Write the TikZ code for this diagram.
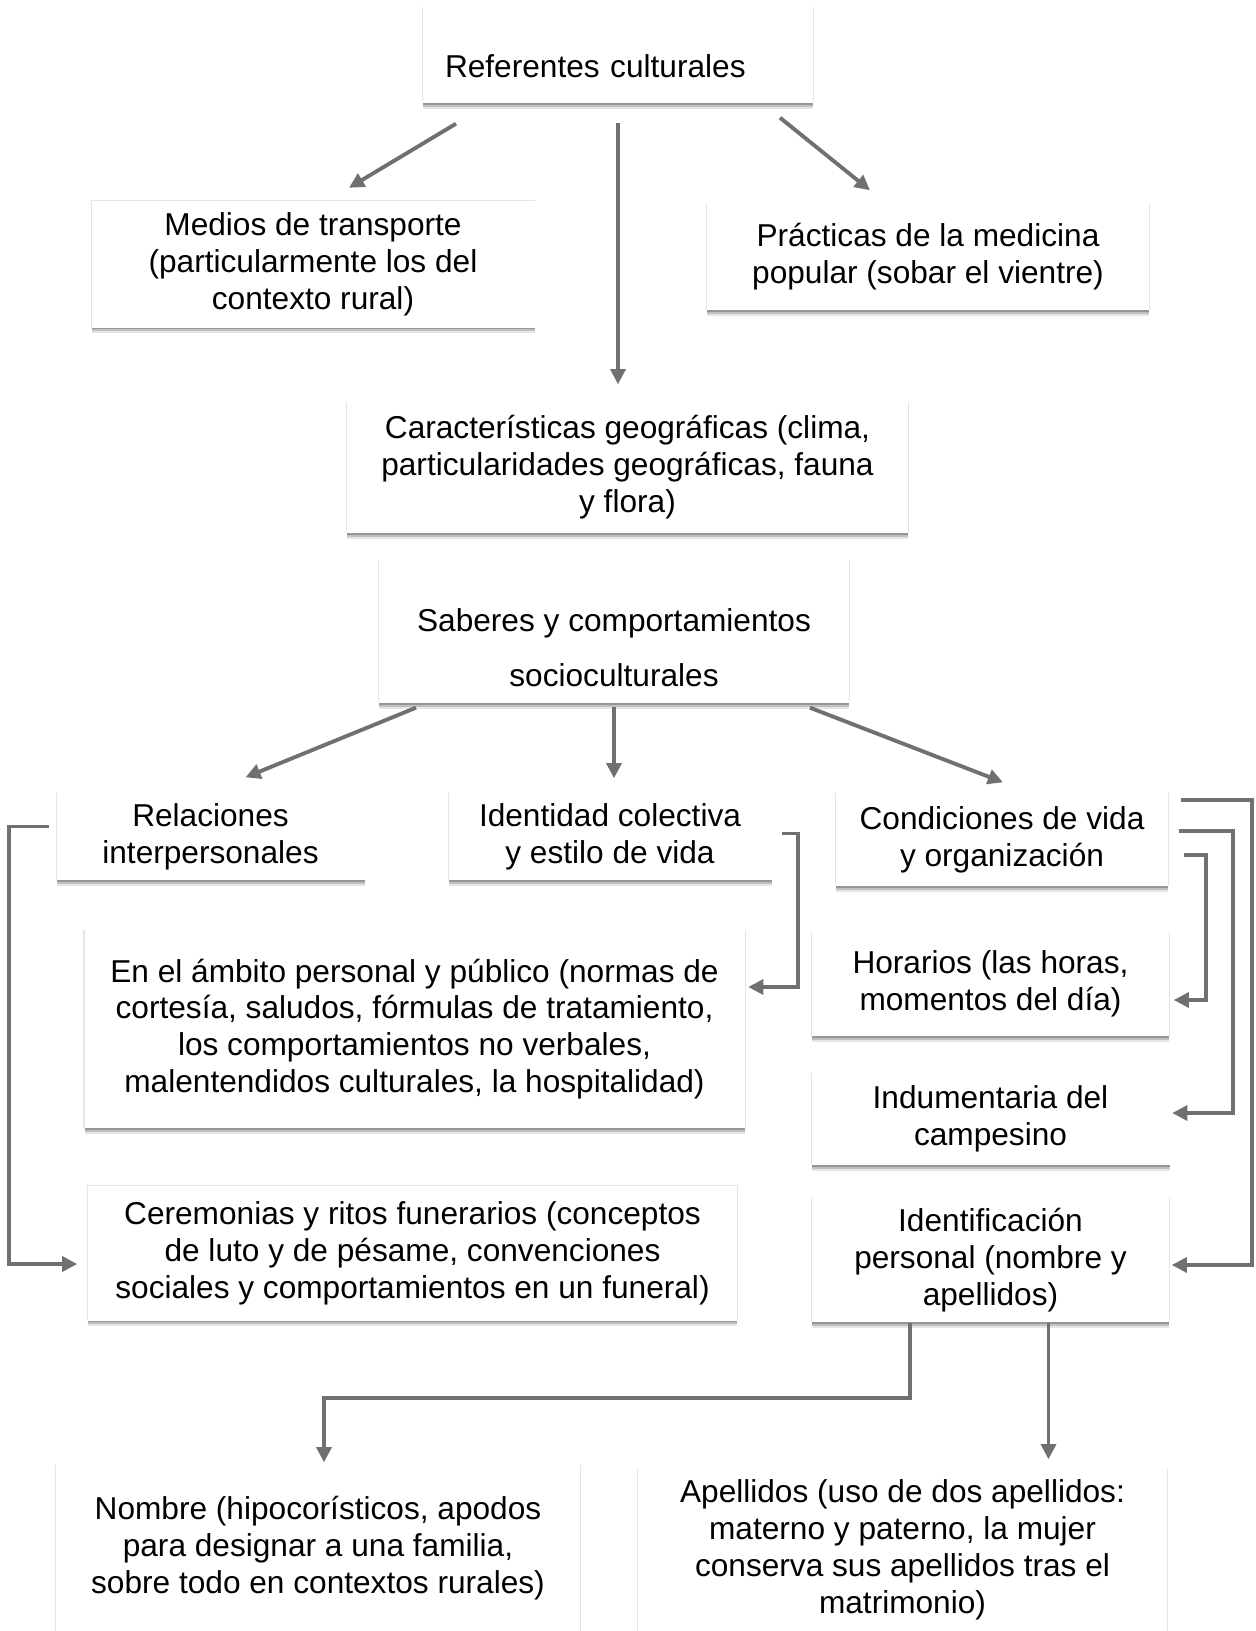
\documentclass[tikz,border=0pt]{standalone}
\usepackage{fontspec}
\setmainfont{Liberation Sans}
\usepackage{tikz}
\usetikzlibrary{positioning, arrows.meta, calc, shadows}
\definecolor{linegray}{RGB}{112,112,112}

\begin{document}
\begin{tikzpicture}[
    block/.style={rectangle, fill=white, align=center, inner sep=2pt,
                  font=\fontsize{9}{10.5}\selectfont,
                  general shadow={shadow scale=1.004, fill=black, opacity=0.10},
                  general shadow={shadow yshift=-0.5pt, fill=black, opacity=0.22},
                  general shadow={shadow yshift=-1.0pt, fill=black, opacity=0.16},
                  general shadow={shadow yshift=-1.6pt, fill=black, opacity=0.10}},
    arrow/.style={-{Triangle[length=4.3pt, width=4.2pt]}, line width=1.1pt, draw=linegray}
]
    \fill[white] (0,0) rectangle (12.55,-16.31);
    \useasboundingbox (0,0) rectangle (12.55,-16.31);

    % Top level
    \node[block, minimum width=3.90cm, minimum height=0.96cm, text width=3.46cm, inner xsep=0.22cm, align=left] (ref) at (6.18, -0.55) {\rule{0pt}{0.45cm}Referentes culturales};

    \node[block, minimum width=4.43cm, minimum height=1.27cm] (medios) at (3.13, -2.64) {Medios de transporte\\(particularmente los del\\contexto rural)};
    \node[block, minimum width=4.42cm, minimum height=1.07cm] (practicas) at (9.28, -2.565) {Prácticas de la medicina\\popular (sobar el vientre)};
    \node[block, minimum width=5.61cm, minimum height=1.31cm] (geografia) at (6.275, -4.675) {Características geográficas (clima,\\particularidades geográficas, fauna\\y flora)};

    \draw[arrow] ([xshift=-1.62cm, yshift=-0.2cm]ref.south) -- ([xshift=0.36cm, yshift=0.12cm]medios.north);
    \draw[arrow] ([yshift=-0.19cm]ref.south) -- ([yshift=0.17cm]ref.south |- geografia.north);
    \draw[arrow] ([xshift=1.62cm, yshift=-0.14cm]ref.south) -- ([xshift=-0.58cm, yshift=0.12cm]practicas.north);

    % Saberes y comportamientos
    \node[block, minimum width=4.70cm, minimum height=1.43cm] (saberes) at (6.14, -6.315) {\rule{0pt}{0.55cm}Saberes y comportamientos\\[0.18cm]socioculturales};

    \node[block, minimum width=3.08cm, minimum height=0.87cm] (relaciones) at (2.105, -8.365) {Relaciones\\interpersonales};
    \node[block, minimum width=3.23cm, minimum height=0.87cm] (identidad) at (6.10, -8.365) {Identidad colectiva\\y estilo de vida};
    \node[block, minimum width=3.32cm, minimum height=0.93cm] (condiciones) at (10.02, -8.395) {Condiciones de vida\\y organización};

    \draw[arrow] ([xshift=-1.98cm, yshift=-0.04cm]saberes.south) -- ([xshift=0.35cm, yshift=0.15cm]relaciones.north);
    \draw[arrow] ([yshift=-0.03cm]saberes.south) -- ([yshift=0.14cm]saberes.south |- identidad.north);
    \draw[arrow] ([xshift=1.96cm, yshift=-0.04cm]saberes.south) -- ([xshift=0.01cm, yshift=0.1cm]condiciones.north);

    % Sub-topics
    \node[block, minimum width=6.60cm, minimum height=1.98cm] (ambito) at (4.145, -10.29) {En el ámbito personal y público (normas de\\cortesía, saludos, fórmulas de tratamiento,\\los comportamientos no verbales,\\malentendidos culturales, la hospitalidad)};
    \node[block, minimum width=6.49cm, minimum height=1.35cm] (ceremonias) at (4.125, -12.53) {Ceremonias y ritos funerarios (conceptos\\de luto y de pésame, convenciones\\sociales y comportamientos en un funeral)};

    \node[block, minimum width=3.57cm, minimum height=1.04cm] (horarios) at (9.905, -9.84) {Horarios (las horas,\\momentos del día)};
    \node[block, minimum width=3.58cm, minimum height=0.92cm] (indumentaria) at (9.905, -11.19) {Indumentaria del\\campesino};
    \node[block, minimum width=3.57cm, minimum height=1.24cm] (identificacion) at (9.905, -12.60) {Identificación\\personal (nombre y\\apellidos)};

    \draw[arrow] ([xshift=-0.07cm, yshift=0.1cm]relaciones.west) -- ++(-0.4,0) |- ([xshift=-0.1cm, yshift=-0.11cm]ceremonias.west);
    \draw[arrow] ([xshift=0.1cm, yshift=0.03cm]identidad.east) -- ++(0.16,0) |- ([xshift=0.03cm, yshift=0.42cm]ambito.east);

    \draw[arrow] ([xshift=0.15cm, yshift=-0.155cm]condiciones.east) -- ++(0.22,0) |- ([xshift=0.04cm, yshift=-0.16cm]horarios.east);
    \draw[arrow] ([xshift=0.10cm, yshift=0.085cm]condiciones.east) -- ++(0.54,0) |- ([xshift=0.02cm, yshift=0.06cm]indumentaria.east);
    \draw[arrow] ([xshift=0.12cm, yshift=0.395cm]condiciones.east) -- ++(0.71,0) |- ([xshift=0.02cm, yshift=-0.05cm]identificacion.east);

    % Nombre y apellidos
    \node[block, minimum width=5.24cm, minimum height=1.66cm] (nombre) at (3.18, -15.48) {Nombre (hipocorísticos, apodos\\para designar a una familia,\\sobre todo en contextos rurales)};
    \node[block, minimum width=5.29cm, minimum height=1.62cm] (apellidos) at (9.025, -15.50) {Apellidos (uso de dos apellidos:\\materno y paterno, la mujer\\conserva sus apellidos tras el\\matrimonio)};

    \draw[arrow] ([xshift=-0.805cm]identificacion.south) -- ++(0,-0.75) -| ([xshift=0.06cm, yshift=0.02cm]nombre.north);
    \draw[arrow] ([xshift=0.58cm]identificacion.south) -- ([xshift=0.58cm, yshift=0.09cm]identificacion.south |- apellidos.north);

\end{tikzpicture}
\end{document}
